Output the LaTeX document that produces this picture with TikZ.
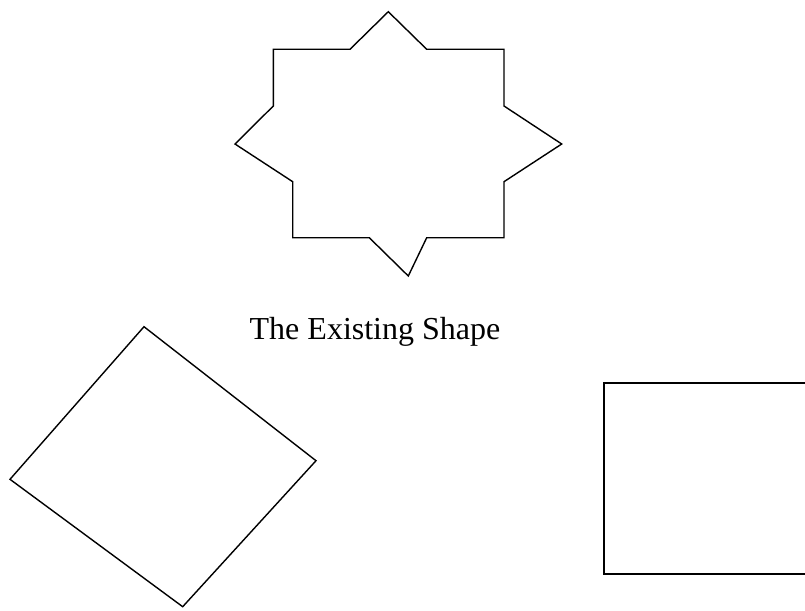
\documentclass[tikz,border=0pt]{standalone}
\usepackage{fontspec}
\setmainfont{Liberation Serif}
\usepackage{tikz}
\usetikzlibrary{positioning}

\begin{document}
\begin{tikzpicture}[
        x=1pt, y=-1pt,
        outline/.style={draw, line width=1.4pt, line join=miter},
        frame/.style={draw, line width=1.9pt, line join=miter},
        caption/.style={font=\fontsize{32}{38}\selectfont, inner sep=0pt, anchor=base}
    ]
        \useasboundingbox (0,0) rectangle (805,610);

        % Existing shape (eight-pointed star)
        \draw[outline] (388.3,11.7) -- (426.7,49.3) -- (504,49.3) -- (504,106)
            -- (561.7,144) -- (504,181.7) -- (504,237.7) -- (426.7,237.7)
            -- (408.3,276) -- (369.3,237.7) -- (292.7,237.7) -- (292.7,181.7)
            -- (235,144) -- (273.3,106) -- (273.3,49.3) -- (350,49.3) -- cycle;
        \node[caption] (existing) at (375,339) {The Existing Shape};

        % Tilted square
        \coordinate (sqtop) at (144,326.7);
        \coordinate (sqright) at (316,460.7);
        \coordinate (sqbottom) at (182.7,606.7);
        \coordinate (sqleft) at (10,479.3);
        \draw[outline] (sqtop) -- (sqright) -- (sqbottom) -- (sqleft) -- cycle;

        % Rectangle running off the right edge
        \coordinate (rtop) at (805,383.3);
        \coordinate (rbottom) at (805,574.3);
        \draw[frame] (rtop) -- (604.3,383.3) -- (604.3,574.3) -- (rbottom);
\end{tikzpicture}
\end{document}
